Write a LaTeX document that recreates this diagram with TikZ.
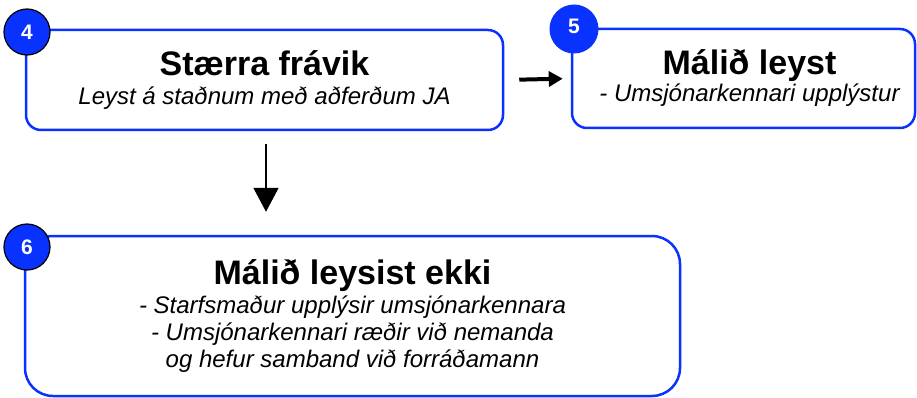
\documentclass[tikz,border=0pt]{standalone}
\usepackage{fontspec}
\setmainfont{Liberation Sans}
\usepackage{tikz}
\usetikzlibrary{arrows.meta}
\usetikzlibrary{positioning,calc}
\definecolor{stepBlue}{RGB}{10,50,255}
\newcommand{\titleFont}{\fontsize{34}{36}\selectfont\upshape\bfseries}
\newcommand{\subFont}{\fontsize{24}{27}\selectfont\itshape}

\begin{document}
\begin{tikzpicture}[x=1pt,y=-1pt]
	%defines
	\tikzstyle{caseBox} = [rectangle, rounded corners=15pt, line width=2.5pt, draw=stepBlue, fill=white, align=center, inner sep=0pt, font=\subFont]
	\tikzstyle{bigBox} = [caseBox, rounded corners=28pt]
	\tikzstyle{stepNum} = [circle, minimum size=46pt, inner sep=0pt, fill=stepBlue, draw=black, line width=1.2pt, text=white, font=\fontsize{21}{21}\selectfont\bfseries]
	\tikzstyle{arrow} = [line width=2pt, -{Triangle[width=25pt,length=24pt]}]
	\tikzstyle{thickArrow} = [line width=4pt, -{Triangle[width=15pt,length=14pt]}]
	\useasboundingbox (0,0) rectangle (917,398);
	%chart
	\node (minorCase) [caseBox, minimum width=477pt, minimum height=100pt] at (264.5,80) {{\titleFont Stærra frávik}\\[2pt]Leyst á staðnum með aðferðum JA};
	\node (solvedCase) [caseBox, minimum width=343pt, minimum height=99pt] at (743.5,78.5) {\hspace*{12pt}{\titleFont Málið leyst}\\[0pt]\hspace*{12pt}- Umsjónarkennari upplýstur};
	\node (openCase) [bigBox, minimum width=655pt, minimum height=160pt] at (352.5,316) {{\titleFont Málið leysist ekki}\\[2pt]- Starfsmaður upplýsir umsjónarkennara\\- Umsjónarkennari ræðir við nemanda\\og hefur samband við forráðamann};
	%numbers
	\node (numFour) [stepNum] at (27,32) {4};
	\node (numFive) [stepNum, draw=none, minimum size=49pt] at (574,29) {\raisebox{6pt}{5}};
	\node (numSix) [stepNum] at (27,247) {6};
	%arrows
	\draw [thickArrow, shorten <=15pt, shorten >=8pt] (minorCase.east) -- (solvedCase.west);
	\draw [arrow, shorten <=13pt, shorten >=23pt] ([xshift=1.5pt]minorCase.south) -- ([xshift=1.5pt]minorCase.south |- openCase.north);
\end{tikzpicture}
\end{document}
